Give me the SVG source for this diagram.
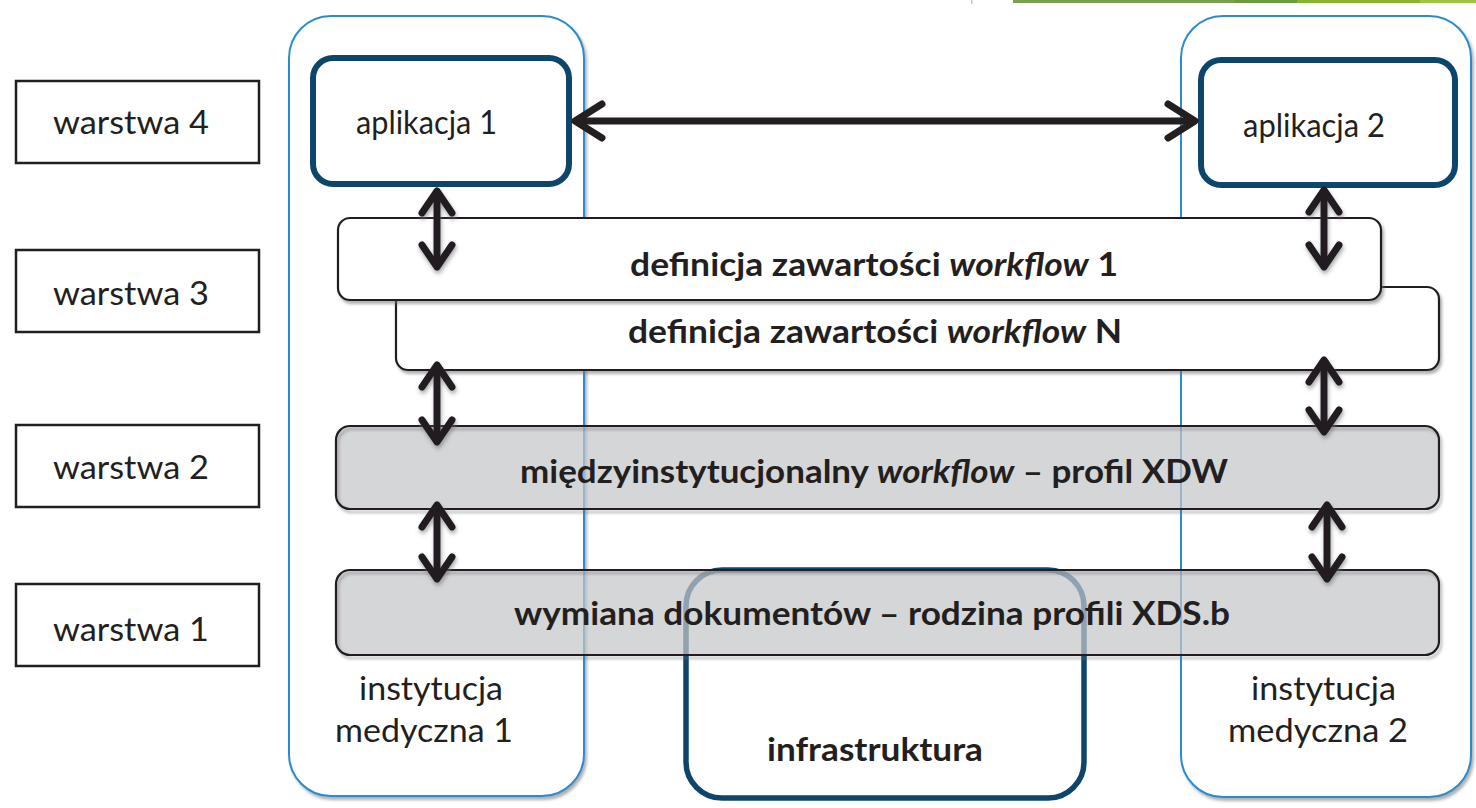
<svg xmlns="http://www.w3.org/2000/svg" width="1476" height="808" viewBox="0 0 1476 808">
  <style>
    .txt { font-family: Lato, "Liberation Sans", sans-serif; fill: #231f20; }
    .reg { font-size: 32px; }
    .bold { font-size: 32px; font-weight: bold; }
    .it { font-style: italic; }
    .legend { fill: #ffffff; stroke: #231f20; stroke-width: 2.5; }
    .inst { fill: #ffffff; stroke: #2b8ccd; stroke-width: 2; }
    .app { fill: #ffffff; stroke: #0e456b; stroke-width: 6; }
    .infra { fill: #ffffff; stroke: #0e456b; stroke-width: 5.5; }
    .layerW { fill: #ffffff; stroke: #231f20; stroke-width: 2.2; }
    .layerG { fill: #c4c6c9; fill-opacity: 0.72; stroke: none; }
    .outline { fill: none; stroke: #231f20; stroke-width: 2.2; }
    .arrow { fill: none; stroke: #231f20; stroke-width: 7; }
  </style>
  <defs>
    <filter id="shadow" x="-5%" y="-20%" width="110%" height="150%">
      <feDropShadow dx="2" dy="3" stdDeviation="1.5" flood-color="#6d6e71" flood-opacity="0.55"/>
    </filter>
    <filter id="ashadow" x="-50%" y="-20%" width="200%" height="140%">
      <feDropShadow dx="1" dy="3" stdDeviation="2" flood-color="#6d6e71" flood-opacity="0.6"/>
    </filter>
    <marker id="headV" markerUnits="userSpaceOnUse" orient="auto-start-reverse" refX="0" refY="0" markerWidth="10" markerHeight="10" overflow="visible">
      <path d="M-22,-15 L0,0 L-22,15" fill="none" stroke="#231f20" stroke-width="7" stroke-linecap="round" stroke-linejoin="round"/>
    </marker>
    <marker id="headH" markerUnits="userSpaceOnUse" orient="auto-start-reverse" refX="0" refY="0" markerWidth="10" markerHeight="10" overflow="visible">
      <path d="M-27,-17 L0,0 L-27,17" fill="none" stroke="#231f20" stroke-width="7" stroke-linecap="round" stroke-linejoin="round"/>
    </marker>
  </defs>

  <!-- top decorative bar -->
  <g id="topbar">
    <rect x="971" y="0" width="1.5" height="4" fill="#c8c8c8"/>
    <rect x="1013" y="0" width="222" height="3" fill="#77a04f"/>
    <rect x="1235" y="0" width="62" height="3" fill="#6c9b3d"/>
    <rect x="1297" y="0" width="123" height="3" fill="#88b52f"/>
    <rect x="1420" y="0" width="56" height="3" fill="#9cc63d"/>
  </g>

  <!-- legend boxes -->
  <g id="warstwa4">
    <rect class="legend" x="16" y="81" width="243" height="82"/>
    <text class="txt reg" x="53" y="134" textLength="156" lengthAdjust="spacingAndGlyphs">warstwa 4</text>
  </g>
  <g id="warstwa3">
    <rect class="legend" x="16" y="250" width="243" height="82"/>
    <text class="txt reg" x="53" y="305" textLength="156" lengthAdjust="spacingAndGlyphs">warstwa 3</text>
  </g>
  <g id="warstwa2">
    <rect class="legend" x="16" y="425" width="243" height="82"/>
    <text class="txt reg" x="53" y="479" textLength="156" lengthAdjust="spacingAndGlyphs">warstwa 2</text>
  </g>
  <g id="warstwa1">
    <rect class="legend" x="16" y="584" width="243" height="82"/>
    <text class="txt reg" x="53" y="641" textLength="156" lengthAdjust="spacingAndGlyphs">warstwa 1</text>
  </g>

  <!-- institutions -->
  <g id="instytucja1">
    <rect class="inst" x="289" y="16" width="295" height="780" rx="42" filter="url(#shadow)"/>
    <text class="txt reg" x="359" y="700" textLength="144" lengthAdjust="spacingAndGlyphs">instytucja</text>
    <text class="txt reg" x="335" y="742" textLength="178" lengthAdjust="spacingAndGlyphs">medyczna 1</text>
  </g>
  <g id="instytucja2">
    <rect class="inst" x="1181" y="16" width="290" height="781" rx="42" filter="url(#shadow)"/>
    <text class="txt reg" x="1251" y="700" textLength="145" lengthAdjust="spacingAndGlyphs">instytucja</text>
    <text class="txt reg" x="1228" y="742" textLength="180" lengthAdjust="spacingAndGlyphs">medyczna 2</text>
  </g>

  <!-- applications -->
  <g id="aplikacja1">
    <rect class="app" x="313" y="58" width="256" height="126" rx="20"/>
    <text class="txt reg" x="356" y="134" textLength="141" lengthAdjust="spacingAndGlyphs">aplikacja 1</text>
  </g>
  <g id="aplikacja2">
    <rect class="app" x="1201" y="60" width="254" height="125" rx="20"/>
    <text class="txt reg" x="1243" y="137" textLength="142" lengthAdjust="spacingAndGlyphs">aplikacja 2</text>
  </g>

  <!-- layer 3 -->
  <g id="workflowN">
    <rect class="layerW" x="396" y="287" width="1043" height="83" rx="12" filter="url(#shadow)"/>
    <text class="txt bold" x="628" y="343" textLength="494" lengthAdjust="spacingAndGlyphs">definicja zawartości <tspan class="it">workflow</tspan> N</text>
  </g>
  <g id="workflow1">
    <rect class="layerW" x="338" y="218" width="1043" height="82" rx="12" filter="url(#shadow)"/>
    <text class="txt bold" x="630" y="276" textLength="488" lengthAdjust="spacingAndGlyphs">definicja zawartości <tspan class="it">workflow</tspan> 1</text>
  </g>

  <!-- layer 2 -->
  <g id="xdw">
    <rect class="layerG" x="336" y="426" width="1103" height="83" rx="14"/>
    <rect class="outline" x="336" y="426" width="1103" height="83" rx="14" filter="url(#shadow)"/>
    <text class="txt bold" x="520" y="483" textLength="708" lengthAdjust="spacingAndGlyphs">międzyinstytucjonalny <tspan class="it">workflow</tspan> – profil XDW</text>
  </g>

  <!-- infrastructure -->
  <g id="infrastruktura">
    <rect class="infra" x="686" y="570" width="398" height="228" rx="36"/>
    <text class="txt bold" x="767" y="761" textLength="216" lengthAdjust="spacingAndGlyphs">infrastruktura</text>
  </g>

  <!-- layer 1 -->
  <g id="xds">
    <rect class="layerG" x="336" y="570" width="1103" height="85" rx="14"/>
    <rect class="outline" x="336" y="570" width="1103" height="85" rx="14" filter="url(#shadow)"/>
    <text class="txt bold" x="514" y="625" textLength="716" lengthAdjust="spacingAndGlyphs">wymiana dokumentów – rodzina profili XDS.b</text>
  </g>

  <!-- connectors -->
  <g id="connectors">
    <line class="arrow" x1="575" y1="121" x2="1195" y2="121" marker-start="url(#headH)" marker-end="url(#headH)"/>
    <g filter="url(#ashadow)">
      <line class="arrow" x1="437" y1="191" x2="437" y2="267" marker-start="url(#headV)" marker-end="url(#headV)"/>
      <line class="arrow" x1="1324" y1="190" x2="1324" y2="267" marker-start="url(#headV)" marker-end="url(#headV)"/>
      <line class="arrow" x1="437" y1="365" x2="437" y2="442" marker-start="url(#headV)" marker-end="url(#headV)"/>
      <line class="arrow" x1="1324" y1="360" x2="1324" y2="432" marker-start="url(#headV)" marker-end="url(#headV)"/>
      <line class="arrow" x1="437" y1="505" x2="437" y2="579" marker-start="url(#headV)" marker-end="url(#headV)"/>
      <line class="arrow" x1="1327" y1="505" x2="1327" y2="579" marker-start="url(#headV)" marker-end="url(#headV)"/>
    </g>
  </g>
</svg>
